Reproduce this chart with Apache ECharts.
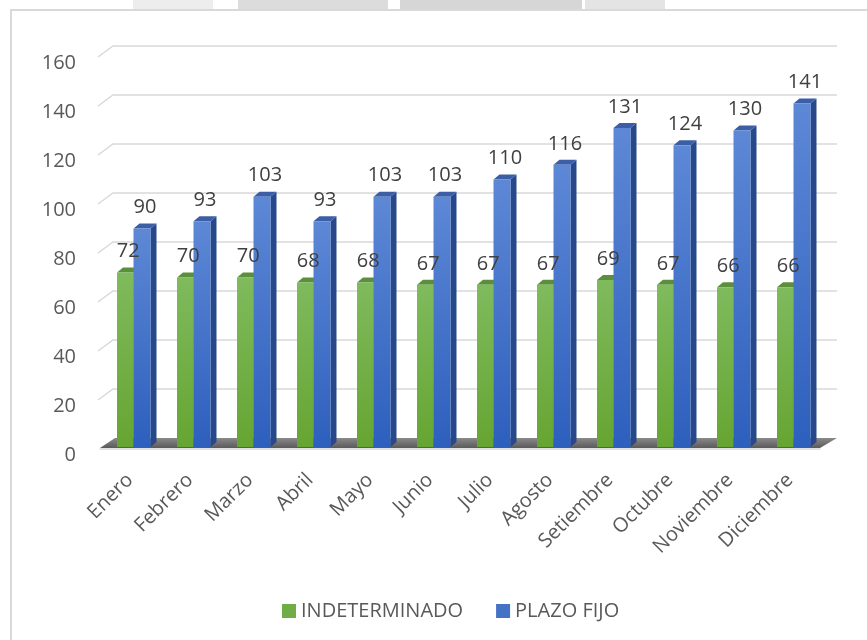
<!DOCTYPE html>
<html lang="es">
<head>
    <meta charset="utf-8">
    <title>Contratos por mes</title>
    <script type="text/javascript" src="https://cdn.jsdelivr.net/npm/echarts@6.0.0/dist/echarts.min.js"></script>
    <style>
        html, body { margin: 0; padding: 0; background: #fff; }
        #main { width: 867px; height: 640px; }
    </style>
</head>
<body>
    <div id="main"></div>
    <script type="text/javascript">
    // datos
    var meses = ['Enero', 'Febrero', 'Marzo', 'Abril', 'Mayo', 'Junio', 'Julio',
        'Agosto', 'Setiembre', 'Octubre', 'Noviembre', 'Diciembre'];
    var indeterminado = [72, 70, 70, 68, 68, 67, 67, 67, 69, 67, 66, 66];
    var plazoFijo = [90, 93, 103, 93, 103, 103, 110, 116, 131, 124, 130, 141];
    var yTicks = [0, 20, 40, 60, 80, 100, 120, 140, 160];

    var FONT = '"Open Sans", sans-serif';
    var BACK_DX = 15, BACK_DY = 11;   // profundidad de la pared del fondo
    var BAR_DX = 6, BAR_DY = 5;       // profundidad de cada barra

    // posicion de cada serie dentro de la categoria (fraccion del ancho)
    var POS_VERDE = { offset: -13 / 60, width: 16.5 / 60 };
    var POS_AZUL = { offset: 3.5 / 60, width: 17 / 60 };

    var myChart = echarts.init(document.getElementById('main'));

    function grad(c1, c2) {
        return new echarts.graphic.LinearGradient(0, 0, 0, 1, [
            { offset: 0, color: c1 }, { offset: 1, color: c2 }
        ]);
    }

    // lineas de la pared y piso
    function renderWall(params, api) {
        var v = api.value(0);
        var bw = api.size([1, 0])[0];
        var p0 = api.coord([0, v]);
        var p1 = api.coord([meses.length - 1, v]);
        var x0 = p0[0] - bw / 2, x1 = p1[0] + bw / 2, y = p0[1];
        if (v === 0) {
            return {
                type: 'polygon',
                shape: { points: [[x0, y - 1], [x1, y - 1], [x1 + BACK_DX + 2, y - BACK_DY], [x0 + BACK_DX, y - BACK_DY]] },
                style: { fill: grad('#8a8a8a', '#5a5a5a') }
            };
        }
        return {
            type: 'polyline',
            shape: { points: [[x0 - 2, y], [x0 + BACK_DX - 2, y - BACK_DY], [x1 + BACK_DX + 2, y - BACK_DY]] },
            style: { stroke: '#d9d9d9', lineWidth: 1.5, fill: null }
        };
    }

    function geom(api, pos) {
        var i = api.value(0), v = api.value(1);
        var top = api.coord([i, v]);
        var base = api.coord([i, 0]);
        var bw = api.size([1, 0])[0];
        return { v: v, x: top[0] + bw * pos.offset, w: bw * pos.width, yT: top[1], yB: base[1] - 2 };
    }

    function labelEl(g) {
        return {
            type: 'text',
            x: g.x + g.w / 2 + BAR_DX / 2,
            y: g.yT - BAR_DY - 6,
            style: {
                text: String(g.v),
                font: '20px ' + FONT,
                fill: '#404040',
                align: 'center', textAlign: 'center',
                verticalAlign: 'bottom', textVerticalAlign: 'bottom'
            }
        };
    }

    function barRenderer(pos, c, withLabel) {
        return function (params, api) {
            var g = geom(api, pos);
            var x = g.x, w = g.w, yT = g.yT, yB = g.yB;
            var children = [
                {
                    type: 'polygon',
                    shape: { points: [[x + w, yT], [x + w + BAR_DX, yT - BAR_DY], [x + w + BAR_DX, yB - BAR_DY], [x + w, yB]] },
                    style: { fill: c.side }
                },
                {
                    type: 'polygon',
                    shape: { points: [[x, yT], [x + BAR_DX, yT - BAR_DY], [x + w + BAR_DX, yT - BAR_DY], [x + w, yT]] },
                    style: { fill: c.top }
                },
                {
                    type: 'rect',
                    shape: { x: x, y: yT, width: w, height: yB - yT },
                    style: { fill: grad(c.front1, c.front2) }
                }
            ];
            if (withLabel) children.push(labelEl(g));
            return { type: 'group', children: children };
        };
    }

    function labelRenderer(pos) {
        return function (params, api) {
            return labelEl(geom(api, pos));
        };
    }

    var verde = { front1: '#7fba5d', front2: '#66a532', top: '#5b8f3b', side: '#4f7d30' };
    var azul = { front1: '#5d88d6', front2: '#2d5fbd', top: '#3b5ea6', side: '#27488a' };

    var datosVerde = indeterminado.map(function (v, i) { return [i, v]; });
    var datosAzul = plazoFijo.map(function (v, i) { return [i, v]; });

    myChart.setOption({
        animation: false,
        graphic: [
            { type: 'rect', shape: { x: 11, y: 10, width: 900, height: 700 }, style: { fill: null, stroke: '#d9d9d9', lineWidth: 2 }, z: -10 },
            { type: 'rect', shape: { x: 133, y: 0, width: 80, height: 9 }, style: { fill: '#ededed' }, z: -10 },
            { type: 'rect', shape: { x: 238, y: 0, width: 150, height: 9 }, style: { fill: '#dcdcdc' }, z: -10 },
            { type: 'rect', shape: { x: 400, y: 0, width: 182, height: 9 }, style: { fill: '#d6d6d6' }, z: -10 },
            { type: 'rect', shape: { x: 585, y: 0, width: 80, height: 9 }, style: { fill: '#e4e4e4' }, z: -10 }
        ],
        legend: {
            data: ['INDETERMINADO', 'PLAZO FIJO'],
            left: 277,
            top: 596,
            icon: 'rect',
            itemWidth: 14,
            itemHeight: 14,
            itemGap: 33,
            textStyle: { fontSize: 20, color: '#595959', fontFamily: FONT }
        },
        grid: { left: 100, right: 47, top: 57, bottom: 191 },
        xAxis: {
            type: 'category',
            data: meses,
            offset: 1,
            axisLine: { lineStyle: { color: '#d9d9d9', width: 1.5 } },
            axisTick: { length: 7, lineStyle: { color: '#d9d9d9', width: 1.5 } },
            axisLabel: { rotate: 45, margin: 27, fontSize: 20, color: '#595959', fontFamily: FONT }
        },
        yAxis: {
            type: 'value',
            min: 0,
            max: 160,
            interval: 20,
            axisLine: { show: false },
            axisTick: { show: false },
            splitLine: { show: false },
            axisLabel: { margin: 24, fontSize: 20, color: '#595959', fontFamily: FONT, verticalAlign: 'top', lineHeight: 12 }
        },
        series: [
            {
                name: 'pared',
                type: 'custom',
                renderItem: renderWall,
                data: yTicks.map(function (t) { return [t]; }),
                encode: { y: 0 },
                silent: true,
                z: 1
            },
            {
                name: 'INDETERMINADO',
                type: 'custom',
                renderItem: barRenderer(POS_VERDE, verde, false),
                itemStyle: { color: '#70ad47' },
                data: datosVerde,
                encode: { x: 0, y: 1 },
                z: 2
            },
            {
                name: 'PLAZO FIJO',
                type: 'custom',
                renderItem: barRenderer(POS_AZUL, azul, true),
                itemStyle: { color: '#4472c4' },
                data: datosAzul,
                encode: { x: 0, y: 1 },
                z: 3
            },
            {
                name: 'etiquetas',
                type: 'custom',
                renderItem: labelRenderer(POS_VERDE),
                data: datosVerde,
                encode: { x: 0, y: 1 },
                silent: true,
                z: 4
            }
        ]
    });
    </script>
</body>
</html>
